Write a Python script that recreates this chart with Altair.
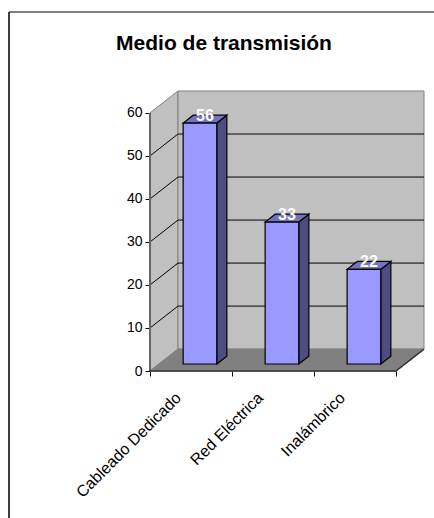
import altair as alt
import pandas as pd

TITLE = "Medio de transmisión"
categories = ["Cableado Dedicado", "Red Eléctrica", "Inalámbrico"]
values = [56, 33, 22]
y_ticks = [0, 10, 20, 30, 40, 50, 60]
grid_values = [10, 20, 30, 40, 50]

# Oblique projection of the box: a point at depth 1 sits this far along each axis
DEPTH_X = 0.3415  # in category units
DEPTH_Y = 5.09    # in value units
Y_MAX = y_ticks[-1]
N = len(categories)
BAR_WIDTH = 0.41
BAR_D0, BAR_D1 = 0.32, 0.68

WALL = "#C0C0C0"
FLOOR = "#808080"
FRONT = "#9999FF"
TOP = "#7373BF"
SIDE = "#4D4D80"


def px(c, d):
    return c + d * DEPTH_X


def py(v, d):
    return v + d * DEPTH_Y


def poly(rows, name, fill, pts):
    for x, y, y2 in pts:
        rows.append({"poly": name, "fill": fill, "x": x, "y": y, "y2": y2})


# Walls and floor of the box
box = []
poly(box, "left", WALL, [(0, 0, Y_MAX), (DEPTH_X, DEPTH_Y, Y_MAX + DEPTH_Y)])
poly(box, "back", WALL, [(DEPTH_X, DEPTH_Y, Y_MAX + DEPTH_Y), (N + DEPTH_X, DEPTH_Y, Y_MAX + DEPTH_Y)])
poly(box, "floor", FLOOR, [(0, 0, 0), (DEPTH_X, DEPTH_Y, 0), (N, DEPTH_Y, 0), (N + DEPTH_X, DEPTH_Y, DEPTH_Y)])

# Three visible faces of each column
faces = []
labels = []
for i, v in enumerate(values):
    c0 = i + 0.5 - BAR_WIDTH / 2
    c1 = i + 0.5 + BAR_WIDTH / 2
    x0, x1 = px(c0, BAR_D0), px(c1, BAR_D0)
    bx0, bx1 = px(c0, BAR_D1), px(c1, BAR_D1)
    y_base_f, y_top_f = py(0, BAR_D0), py(v, BAR_D0)
    y_base_b, y_top_b = py(0, BAR_D1), py(v, BAR_D1)
    poly(faces, f"side{i}", SIDE, [(x1, y_base_f, y_top_f), (bx1, y_base_b, y_top_b)])
    poly(faces, f"top{i}", TOP, [(x0, y_top_f, y_top_f), (bx0, y_top_f, y_top_b),
                                 (x1, y_top_f, y_top_b), (bx1, y_top_b, y_top_b)])
    poly(faces, f"front{i}", FRONT, [(x0, y_base_f, y_top_f), (x1, y_base_f, y_top_f)])
    labels.append({"x": px(i + 0.5, 0.5), "y": py(v, 0.5), "label": str(v)})

grid = []
for v in grid_values:
    for x, y in [(0, v), (DEPTH_X, v + DEPTH_Y), (N + DEPTH_X, v + DEPTH_Y)]:
        grid.append({"v": v, "x": x, "y": y})

x_scale = alt.Scale(domain=[0, N + DEPTH_X], nice=False, zero=False)
y_scale = alt.Scale(domain=[0, Y_MAX + DEPTH_Y], nice=False, zero=False)

tick_values = [k / 2 for k in range(2 * N + 1)]
label_expr = "".join(f"datum.value == {i + 0.5} ? '{c}' : " for i, c in enumerate(categories)) + "''"

x_axis = alt.Axis(
    title=None, values=tick_values, labelExpr=label_expr, labelAngle=-45, labelAlign="right",
    labelBaseline="middle", labelFontSize=16, labelFont="Liberation Sans", labelColor="#000000",
    labelOverlap=False, labelBound=False, labelFlush=False, labelPadding=19, labelOffset=-13,
    domain=False, grid=False, tickSize=5, tickColor="#000000",
    tickOpacity={"condition": {"test": "datum.value % 1 == 0", "value": 1}, "value": 0},
)
y_axis = alt.Axis(
    title=None, values=y_ticks, labelFontSize=14, labelFont="Liberation Sans", labelColor="#000000",
    labelPadding=3, domain=False, grid=False, tickSize=5, tickColor="#000000",
)

enc_x = alt.X("x:Q", scale=x_scale, axis=x_axis)
enc_y = alt.Y("y:Q", scale=y_scale, axis=y_axis)

box_layer = alt.Chart(pd.DataFrame(box)).mark_area(stroke="#808080", strokeWidth=1).encode(
    x=enc_x, y=enc_y, y2="y2:Q", detail="poly:N", fill=alt.Fill("fill:N", scale=None),
)
grid_layer = alt.Chart(pd.DataFrame(grid)).mark_line(color="#000000", strokeWidth=1).encode(
    x=enc_x, y=enc_y, detail="v:N",
)
face_layer = alt.Chart(pd.DataFrame(faces)).mark_area(stroke="#000000", strokeWidth=1.2).encode(
    x=enc_x, y=enc_y, y2="y2:Q", detail="poly:N", fill=alt.Fill("fill:N", scale=None),
)
label_layer = alt.Chart(pd.DataFrame(labels)).mark_text(
    color="#FFFFFF", font="Liberation Sans", fontSize=16, fontWeight="bold", baseline="middle", dy=-3,
).encode(x=enc_x, y=enc_y, text="label:N")

# Front axis lines and the right edge of the floor
edges = pd.DataFrame([
    {"e": "value", "x": 0, "y": 0}, {"e": "value", "x": 0, "y": Y_MAX},
    {"e": "base", "x": 0, "y": 0}, {"e": "base", "x": N, "y": 0},
    {"e": "base", "x": N + DEPTH_X, "y": DEPTH_Y},
])
edge_value = alt.Chart(edges[edges.e == "value"]).mark_line(color="#666666", strokeWidth=2).encode(
    x=enc_x, y=enc_y)
edge_base = alt.Chart(edges[edges.e == "base"]).mark_line(color="#333333", strokeWidth=1.5).encode(
    x=enc_x, y=enc_y)

one = pd.DataFrame({"a": [0]})

# Outer frame: only the top and left edges show
frame_left = alt.Chart(one).mark_rule(color="#404040", strokeWidth=2).encode(
    x=alt.value(-141), y=alt.value(-79), y2=alt.value(427))
frame_top = alt.Chart(one).mark_rule(color="#000000", strokeWidth=1).encode(
    x=alt.value(-141), x2=alt.value(284), y=alt.value(-79))
title_layer = alt.Chart(pd.DataFrame({"t": [TITLE]})).mark_text(
    font="Liberation Sans", fontSize=21, fontWeight="bold", color="#000000", align="center", baseline="alphabetic",
).encode(x=alt.value(74), y=alt.value(-41), text="t:N")

chart = alt.layer(
    box_layer, grid_layer, face_layer, edge_value, edge_base, label_layer, frame_left, frame_top, title_layer,
).properties(
    width=274, height=280,
    padding={"left": 150, "top": 91, "right": 10, "bottom": 147},
    autosize=alt.AutoSizeParams(type="none"),
    background="#FFFFFF",
).configure_view(stroke=None)

chart.save("out.html", embed_options={"renderer": "svg", "actions": False})
